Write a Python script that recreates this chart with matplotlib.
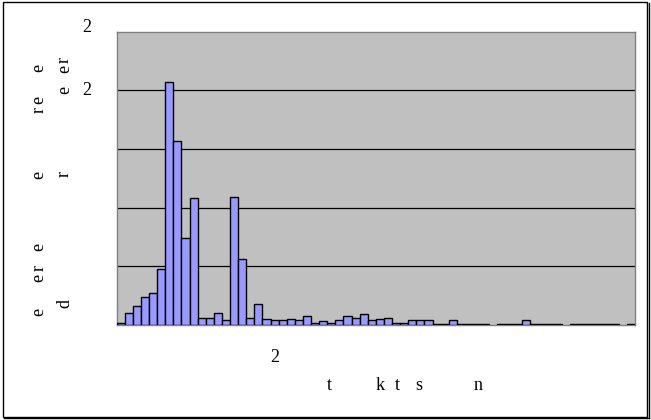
import numpy as np
import matplotlib.pyplot as plt
from matplotlib.patches import Rectangle
from matplotlib.lines import Line2D

# counts per class (64 classes)
counts = [2, 10, 16, 24, 27, 48, 207, 157, 74, 108,
          6, 6, 10, 4, 109, 56, 6, 18, 5, 4,
          4, 5, 4, 8, 2, 3, 2, 4, 8, 6,
          9, 4, 5, 6, 2, 2, 4, 4, 4, 1,
          1, 4, 1, 1, 1, 1, 0, 1, 1, 1,
          4, 1, 1, 1, 1, 0, 1, 1, 1, 1,
          1, 1, 0, 1]
ymax = 250
grid_vals = [50, 100, 150, 200]

# y tick text (only the glyphs that survive)
ytick_text = [(250, "2", "baseline"), (200, "2", "center")]
xtick_text = [(20.0, "2")]

# axis title fragments: (x px, y px, char)
ylabel_col1 = [(68, "e"), (100, "e"), (110, "r"), (175, "e"),
               (247, "e"), (268, "r"), (278, "e"), (312, "e")]
ylabel_col2 = [(60, "r"), (69, "e"), (90, "e"), (174, "r"), (303, "d")]
xlabel_chars = [(329, "t"), (380, "k"), (397, "t"), (419, "s"), (478, "n")]

W, H = 651, 420
fig = plt.figure(figsize=(W / 100, H / 100), dpi=100)
fig.patch.set_facecolor("white")
serif = "Liberation Serif"
fs = 13

ax = fig.add_axes([116.7 / W, (H - 325) / H, (635 - 116.7) / W, (325 - 31.7) / H])
ax.set_facecolor("#C0C0C0")

x = np.arange(len(counts))
c = np.array(counts)
keep = c > 0
ax.bar(x[keep], c[keep], width=1.0, color="#9999FF", edgecolor="black",
       linewidth=1.0, zorder=3)

for g in grid_vals:
    ax.axhline(g, color="black", linewidth=0.9, zorder=1)

ax.set_xlim(-0.5, len(counts) - 0.5)
ax.set_ylim(0, ymax)
ax.set_xticks([])
ax.set_yticks([])
for s in ax.spines.values():
    s.set_color("#808080")
    s.set_linewidth(1.0)

ytr = ax.get_yaxis_transform()
for v, t, va in ytick_text:
    ax.text(-0.05, v, t, transform=ytr, ha="right", va=va,
            fontsize=fs, family=serif)
xtr = ax.get_xaxis_transform()
for v, t in xtick_text:
    ax.text(v - 0.45, -0.125, t, transform=xtr, ha="right", va="baseline",
            fontsize=fs, family=serif)

for yy, ch in ylabel_col1:
    fig.text(43.5 / W, 1 - yy / H, ch, rotation=90, rotation_mode="anchor",
             ha="center", va="baseline", fontsize=fs, family=serif)
for yy, ch in ylabel_col2:
    fig.text(69 / W, 1 - yy / H, ch, rotation=90, rotation_mode="anchor",
             ha="center", va="baseline", fontsize=fs, family=serif)
for xx, ch in xlabel_chars:
    fig.text(xx / W, 1 - 389.5 / H, ch, ha="center", va="baseline",
             fontsize=fs, family=serif)

# chart frame with a slight shadow on the right and bottom
fig.patches.append(Rectangle((3 / W, 3 / H), 644 / W, 415 / H,
                             transform=fig.transFigure, fill=False,
                             edgecolor="black", linewidth=1.0))
fig.lines.append(Line2D([648.5 / W, 648.5 / W], [2 / H, 417 / H],
                        transform=fig.transFigure, color="black", linewidth=1.0))
fig.lines.append(Line2D([4 / W, 648.5 / W], [2.2 / H, 2.2 / H],
                        transform=fig.transFigure, color="black", linewidth=1.0))

fig.savefig("out.png", dpi=100)
